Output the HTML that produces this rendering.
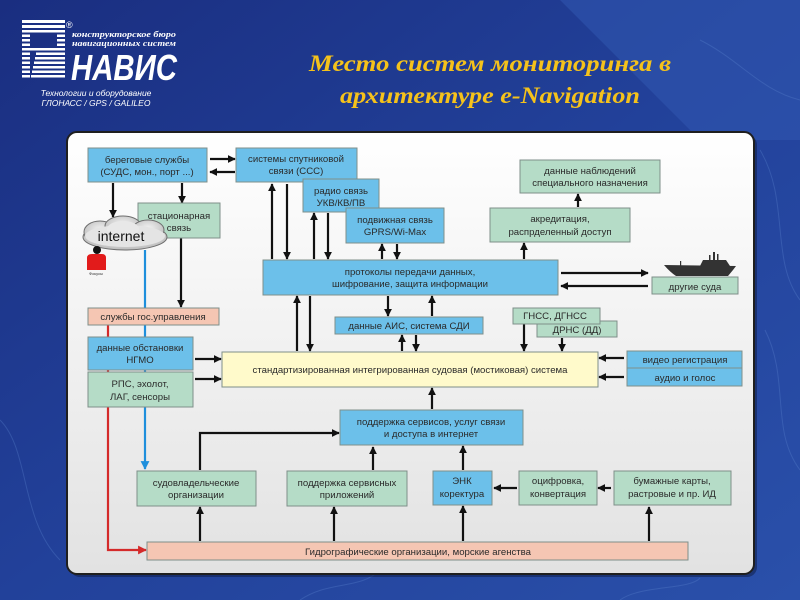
<!DOCTYPE html>
<html><head><meta charset="utf-8">
<style>
html,body{margin:0;padding:0;}
body{width:800px;height:600px;overflow:hidden;background:#213f96;}
svg{display:block;}
</style></head>
<body>
<svg width="800" height="600" viewBox="0 0 800 600" xmlns="http://www.w3.org/2000/svg">
<defs>
<linearGradient id="bg" x1="0" y1="0" x2="1" y2="1">
<stop offset="0" stop-color="#1a2e80"/>
<stop offset="0.5" stop-color="#22419a"/>
<stop offset="1" stop-color="#2a50aa"/>
</linearGradient>
<linearGradient id="panel" x1="0" y1="0" x2="0" y2="1">
<stop offset="0" stop-color="#ffffff"/>
<stop offset="1" stop-color="#e2e2e2"/>
</linearGradient>
<radialGradient id="cloud" cx="0.5" cy="0.4" r="0.6">
<stop offset="0" stop-color="#f2f2f2"/>
<stop offset="1" stop-color="#bdbdbd"/>
</radialGradient>
<marker id="ah" viewBox="0 0 10 10" refX="9" refY="5" markerWidth="3.6" markerHeight="3.6" orient="auto" markerUnits="strokeWidth">
<path d="M0,0 L10,5 L0,10 z" fill="#111"/>
</marker>
<marker id="ahb" viewBox="0 0 10 10" refX="9" refY="5" markerWidth="4" markerHeight="4" orient="auto" markerUnits="strokeWidth">
<path d="M0,0 L10,5 L0,10 z" fill="#1e8fdc"/>
</marker>
<marker id="ahr" viewBox="0 0 10 10" refX="9" refY="5" markerWidth="4" markerHeight="4" orient="auto" markerUnits="strokeWidth">
<path d="M0,0 L10,5 L0,10 z" fill="#d42a2a"/>
</marker>
</defs>

<!-- background -->
<rect x="0" y="0" width="800" height="600" fill="url(#bg)"/>
<polygon points="560,0 800,0 800,140 700,140" fill="#3258b0" opacity="0.55"/>
<g fill="none" stroke="#5a80cc" stroke-width="1" opacity="0.35">
<path d="M760,150 C790,200 770,260 800,300"/>
<path d="M765,330 C790,380 770,430 800,470"/>
<path d="M0,420 C30,450 20,520 60,560"/>
<path d="M300,600 C330,580 360,590 380,570"/>
<path d="M620,600 C640,585 690,590 700,578"/>
<path d="M700,40 C740,60 760,90 800,100"/>
</g>

<!-- logo -->
<g fill="#ffffff">
<rect x="22" y="20" width="43" height="3"/>
<rect x="22" y="25" width="43" height="3"/>
<rect x="22" y="30" width="43" height="2.5"/>
<rect x="22" y="34.5" width="8" height="2.5"/><rect x="57" y="34.5" width="8" height="2.5"/>
<rect x="22" y="39" width="8" height="2.5"/><rect x="57" y="39" width="8" height="2.5"/>
<rect x="22" y="43.5" width="8" height="2.5"/><rect x="57" y="43.5" width="8" height="2.5"/>
<rect x="22" y="48" width="43" height="2.5"/>
<rect x="22" y="52.5" width="8" height="2.5"/><rect x="36" y="52.5" width="29" height="2.5"/>
<rect x="22" y="57" width="8" height="2.5"/><rect x="35" y="57" width="30" height="2.5"/>
<rect x="22" y="61.5" width="8" height="2.5"/><rect x="34" y="61.5" width="31" height="2.5"/>
<rect x="22" y="66" width="8" height="2.5"/><rect x="33" y="66" width="32" height="2.5"/>
<rect x="22" y="70.5" width="8" height="2.5"/><rect x="32" y="70.5" width="33" height="2.5"/>
<rect x="22" y="75" width="8" height="2.5"/><rect x="31" y="75" width="34" height="2.5"/>
</g>
<text x="66" y="28" font-family="Liberation Sans, sans-serif" font-size="9" fill="#fff">®</text>
<text x="72" y="37" font-family="Liberation Serif, serif" font-size="8" font-weight="bold" font-style="italic" fill="#fff" textLength="104" lengthAdjust="spacingAndGlyphs">конструкторское  бюро</text>
<text x="72" y="46" font-family="Liberation Serif, serif" font-size="8" font-weight="bold" font-style="italic" fill="#fff" textLength="104" lengthAdjust="spacingAndGlyphs">навигационных систем</text>
<text x="71" y="80" font-family="Liberation Sans, sans-serif" font-size="36" font-weight="bold" font-style="italic" fill="#fff" textLength="106" lengthAdjust="spacingAndGlyphs">НАВИС</text>
<text x="96" y="96" text-anchor="middle" font-family="Liberation Sans, sans-serif" font-size="8.5" font-style="italic" fill="#fff">Технологии и оборудование</text>
<text x="96" y="106" text-anchor="middle" font-family="Liberation Sans, sans-serif" font-size="8.5" font-style="italic" fill="#fff">ГЛОНАСС / GPS / GALILEO</text>

<!-- title -->
<g font-family="Liberation Serif, serif" font-size="23" font-weight="bold" font-style="italic" fill="#f5c21b" text-anchor="middle">
<text x="490" y="71" textLength="362" lengthAdjust="spacingAndGlyphs">Место систем мониторинга в</text>
<text x="490" y="103" textLength="300" lengthAdjust="spacingAndGlyphs">архитектуре e-Navigation</text>
</g>

<!-- panel -->
<rect x="70" y="135" width="687" height="442" rx="10" fill="#0d1a40" opacity="0.5"/>
<rect x="67" y="132" width="687" height="442" rx="10" fill="url(#panel)" stroke="#1f1f1f" stroke-width="2"/>

<!-- colored lines behind boxes -->
<polyline points="145,250 145,469" fill="none" stroke="#1e8fdc" stroke-width="2.2" marker-end="url(#ahb)"/>
<polyline points="108,325 108,550 146,550" fill="none" stroke="#d42a2a" stroke-width="2.2" marker-end="url(#ahr)"/>
<line x1="181" y1="238" x2="181" y2="307" stroke="#111" stroke-width="2.2" marker-end="url(#ah)"/>

<!-- arrows -->
<g stroke="#111" stroke-width="2.2" fill="none" marker-end="url(#ah)">
<line x1="210" y1="159" x2="235" y2="159"/>
<line x1="235" y1="172" x2="210" y2="172"/>
<line x1="113" y1="183" x2="113" y2="217"/>
<line x1="182" y1="183" x2="182" y2="203"/>
<line x1="272" y1="259" x2="272" y2="184"/>
<line x1="287" y1="184" x2="287" y2="259"/>
<line x1="314" y1="259" x2="314" y2="213"/>
<line x1="328" y1="213" x2="328" y2="259"/>
<line x1="382" y1="259" x2="382" y2="244"/>
<line x1="397" y1="244" x2="397" y2="259"/>
<line x1="524" y1="259" x2="524" y2="243"/>
<line x1="578" y1="207" x2="578" y2="194"/>
<line x1="561" y1="273" x2="648" y2="273"/>
<line x1="648" y1="286" x2="561" y2="286"/>
<line x1="195" y1="359" x2="221" y2="359"/>
<line x1="195" y1="379" x2="221" y2="379"/>
<line x1="297" y1="351" x2="297" y2="296"/>
<line x1="310" y1="296" x2="310" y2="351"/>
<line x1="388" y1="296" x2="388" y2="316"/>
<line x1="432" y1="316" x2="432" y2="296"/>
<line x1="402" y1="351" x2="402" y2="335"/>
<line x1="416" y1="335" x2="416" y2="351"/>
<line x1="524" y1="324" x2="524" y2="351"/>
<line x1="562" y1="338" x2="562" y2="351"/>
<line x1="624" y1="358" x2="599" y2="358"/>
<line x1="624" y1="377" x2="599" y2="377"/>
<line x1="432" y1="409" x2="432" y2="388"/>
<polyline points="200,470 200,433 339,433"/>
<line x1="373" y1="470" x2="373" y2="447"/>
<line x1="463" y1="470" x2="463" y2="446"/>
<line x1="517" y1="488" x2="494" y2="488"/>
<line x1="611" y1="488" x2="598" y2="488"/>
<line x1="200" y1="541" x2="200" y2="507"/>
<line x1="334" y1="541" x2="334" y2="507"/>
<line x1="463" y1="541" x2="463" y2="506"/>
<line x1="649" y1="541" x2="649" y2="507"/>
</g>

<!-- boxes -->
<g stroke="#7f8f8a" stroke-width="1">
<rect x="88" y="148" width="119" height="34" fill="#6cc0ea"/>
<rect x="236" y="148" width="121" height="34" fill="#6cc0ea"/>
<rect x="303" y="179" width="76" height="33" fill="#6cc0ea"/>
<rect x="346" y="208" width="98" height="35" fill="#6cc0ea"/>
<rect x="138" y="203" width="82" height="35" fill="#b5dcc7"/>
<rect x="520" y="160" width="140" height="33" fill="#b5dcc7"/>
<rect x="490" y="208" width="140" height="34" fill="#b5dcc7"/>
<rect x="263" y="260" width="295" height="35" fill="#6cc0ea"/>
<rect x="652" y="277" width="86" height="17" fill="#b5dcc7"/>
<rect x="88" y="308" width="131" height="17" fill="#f5c6b3"/>
<rect x="88" y="337" width="105" height="33" fill="#6cc0ea"/>
<rect x="88" y="372" width="105" height="35" fill="#b5dcc7"/>
<rect x="335" y="317" width="148" height="17" fill="#6cc0ea"/>
<rect x="537" y="321" width="80" height="16" fill="#b5dcc7"/>
<rect x="513" y="308" width="87" height="16" fill="#b5dcc7"/>
<rect x="222" y="352" width="376" height="35" fill="#fffacb"/>
<rect x="627" y="351" width="115" height="17" fill="#6cc0ea"/>
<rect x="627" y="368" width="115" height="18" fill="#6cc0ea"/>
<rect x="340" y="410" width="183" height="35" fill="#6cc0ea"/>
<rect x="137" y="471" width="119" height="35" fill="#b5dcc7"/>
<rect x="287" y="471" width="120" height="35" fill="#b5dcc7"/>
<rect x="433" y="471" width="59" height="34" fill="#6cc0ea"/>
<rect x="519" y="471" width="78" height="34" fill="#b5dcc7"/>
<rect x="614" y="471" width="117" height="34" fill="#b5dcc7"/>
<rect x="147" y="542" width="541" height="18" fill="#f5c6b3"/>
</g>
<!-- hide overlap line of ДРНС under ГНСС -->
<rect x="538" y="321.5" width="61" height="2" fill="#b5dcc7"/>

<!-- box text -->
<g font-family="Liberation Sans, sans-serif" font-size="9.6" fill="#2a2a2a" text-anchor="middle">
<text x="147" y="163">береговые службы</text>
<text x="147" y="175">(СУДС, мон., порт ...)</text>
<text x="296" y="162">системы спутниковой</text>
<text x="296" y="174">связи (ССС)</text>
<text x="341" y="194">радио связь</text>
<text x="341" y="206">УКВ/КВ/ПВ</text>
<text x="395" y="223">подвижная связь</text>
<text x="395" y="235">GPRS/Wi-Max</text>
<text x="179" y="219">стационарная</text>
<text x="179" y="231">связь</text>
<text x="590" y="174">данные наблюдений</text>
<text x="590" y="186">специального назначения</text>
<text x="560" y="222">акредитация,</text>
<text x="560" y="235">распрделенный доступ</text>
<text x="410" y="275">протоколы передачи данных,</text>
<text x="410" y="287">шифрование, защита информации</text>
<text x="695" y="290">другие суда</text>
<text x="153" y="320">службы гос.управления</text>
<text x="140" y="351">данные обстановки</text>
<text x="140" y="363">НГМО</text>
<text x="140" y="387">РПС, эхолот,</text>
<text x="140" y="400">ЛАГ, сенсоры</text>
<text x="409" y="329">данные АИС, система СДИ</text>
<text x="555" y="319">ГНСС, ДГНСС</text>
<text x="577" y="333">ДРНС (ДД)</text>
<text x="410" y="373">стандартизированная интегрированная судовая (мостиковая) система</text>
<text x="685" y="363">видео регистрация</text>
<text x="685" y="381">аудио и голос</text>
<text x="431" y="425">поддержка сервисов, услуг связи</text>
<text x="431" y="437">и доступа в интернет</text>
<text x="196" y="486">судовладельческие</text>
<text x="196" y="498">организации</text>
<text x="347" y="486">поддержка сервисных</text>
<text x="347" y="498">приложений</text>
<text x="462" y="484">ЭНК</text>
<text x="462" y="497">коректура</text>
<text x="558" y="484">оцифровка,</text>
<text x="558" y="497">конвертация</text>
<text x="672" y="484">бумажные карты,</text>
<text x="672" y="497">растровые и пр. ИД</text>
<text x="418" y="555">Гидрографические организации, морские агенства</text>
</g>

<!-- internet cloud -->
<g fill="url(#cloud)" stroke="#6e6e6e" stroke-width="1">
<ellipse cx="125" cy="237" rx="42" ry="13"/>
<ellipse cx="100" cy="232" rx="16" ry="11"/>
<ellipse cx="123" cy="226" rx="18" ry="10"/>
<ellipse cx="148" cy="230" rx="16" ry="10"/>
</g>
<ellipse cx="125" cy="236" rx="40" ry="11" fill="#e4e4e4"/>
<ellipse cx="123" cy="229" rx="16" ry="8" fill="#e8e8e8"/>
<text x="121" y="241" text-anchor="middle" font-family="Liberation Sans, sans-serif" font-size="14" fill="#111">internet</text>

<!-- person -->
<circle cx="97" cy="250" r="4" fill="#111"/>
<path d="M87,270 L87,258 Q87,254 92,254 L102,254 Q106,254 106,258 L106,270 z" fill="#e21b1b"/>
<text x="96" y="275" text-anchor="middle" font-family="Liberation Sans, sans-serif" font-size="4" fill="#333">Фокусы</text>

<!-- ship -->
<g fill="#333">
<path d="M664,265 L736,266 L733,270 L728,276 L676,276 Q670,272 664,265 z"/>
<path d="M700,266 L703,260 L726,260 L730,266 z"/>
<rect x="713" y="252" width="2" height="8"/>
<rect x="717" y="254" width="1.5" height="6"/>
<rect x="709" y="255" width="1.5" height="5"/>
<rect x="680" y="261" width="1.2" height="5"/>
</g>
</svg>
</body></html>
